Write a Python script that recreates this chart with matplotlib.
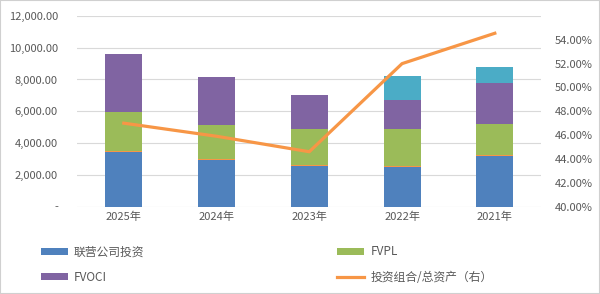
import matplotlib.pyplot as plt
import matplotlib.ticker as mticker
from matplotlib.patches import Rectangle
import numpy as np

plt.rcParams['font.family'] = ['Noto Sans CJK SC', 'DejaVu Sans']

# data
years = ['2025年', '2024年', '2023年', '2022年', '2021年']
associates = [3450, 2950, 2560, 2500, 3190]     # 联营公司投资
other_small = [60, 60, 60, 60, 60]              # thin orange sliver
fvpl = [2420, 2100, 2240, 2320, 1930]
fvoci = [3650, 3060, 2180, 1850, 2580]
extra = [0, 0, 0, 1490, 1010]                   # cyan top segment
ratio = [47.0, 45.9, 44.6, 52.0, 54.55]         # 投资组合/总资产（右）

c_blue = '#4F81BD'
c_orange = '#F79646'
c_green = '#9BBB59'
c_purple = '#8064A2'
c_cyan = '#4BACC6'
txt = '#595959'

fig = plt.figure(figsize=(6, 2.94), dpi=100)
ax = fig.add_axes([0.129, 0.2976, 0.773, 0.648])
x = np.arange(len(years))
w = 0.4

bottom = np.zeros(len(years))
handles = {}
for vals, col, key in [(associates, c_blue, 'a'), (other_small, c_orange, None),
                       (fvpl, c_green, 'p'), (fvoci, c_purple, 'o'),
                       (extra, c_cyan, None)]:
    b = ax.bar(x, vals, w, bottom=bottom, color=col, zorder=2)
    if key:
        handles[key] = b
    bottom += np.array(vals)

ax.set_ylim(0, 12000)
ax.set_xlim(-0.5, len(years) - 0.5)
ax.yaxis.set_major_locator(mticker.MultipleLocator(2000))
ax.yaxis.set_major_formatter(mticker.FuncFormatter(
    lambda v, p: '-' if v == 0 else f'{v:,.2f}'))
ax.grid(axis='y', color='#D9D9D9', lw=0.8, zorder=0)
ax.set_xticks(x)
ax.set_xticklabels(years)
for s in ax.spines.values():
    s.set_visible(False)
ax.tick_params(length=0, colors=txt, labelsize=8)
ax.tick_params(axis='y', pad=14)

ax2 = ax.twinx()
line, = ax2.plot(x, ratio, color=c_orange, lw=2.3, zorder=5)
ax2.set_ylim(40, 56)
ax2.set_yticks(np.arange(40, 55, 2))
ax2.yaxis.set_major_formatter(mticker.FuncFormatter(lambda v, p: f'{v:.2f}%'))
for s in ax2.spines.values():
    s.set_visible(False)
ax2.tick_params(length=0, colors=txt, labelsize=8, pad=10)

lkw = dict(frameon=False, fontsize=8.5, labelcolor=txt, handlelength=2.3,
           handleheight=0.5, labelspacing=1.05, handletextpad=0.5,
           borderaxespad=0, borderpad=0)
fig.legend([handles['a'], handles['o']], ['联营公司投资', 'FVOCI'],
           loc='upper left', bbox_to_anchor=(0.068, 0.165), **lkw)
fig.legend([handles['p'], line], ['FVPL', '投资组合/总资产（右）'],
           loc='upper left', bbox_to_anchor=(0.562, 0.165), **lkw)

fig.patches.append(Rectangle((0, 0), 1, 1, transform=fig.transFigure,
                             fill=False, edgecolor='#D0D0D0', lw=1.5))

fig.savefig('out.png', dpi=100)
